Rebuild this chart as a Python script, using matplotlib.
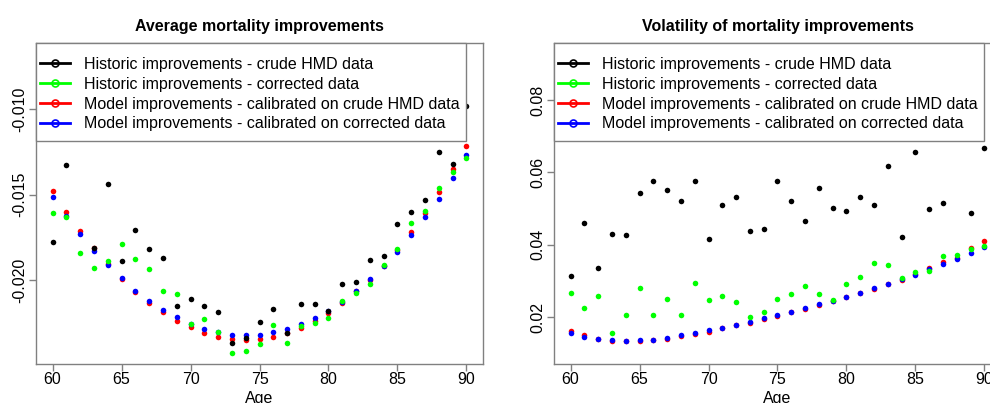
import matplotlib
matplotlib.use("Agg")
import matplotlib.pyplot as plt
from matplotlib.lines import Line2D
from matplotlib.patches import Rectangle
from matplotlib.ticker import FixedLocator, FuncFormatter

plt.rcParams['font.family'] = ['Liberation Sans', 'DejaVu Sans']

ages = list(range(60, 91))

# Average mortality improvements
avg_hist_crude = [-0.01774, -0.01327, -0.01120, -0.01813, -0.01439, -0.01889, -0.01708, -0.01819,
                  -0.01871, -0.02150, -0.02111, -0.02149, -0.02187, -0.02368, -0.02339, -0.02246,
                  -0.02168, -0.02306, -0.02137, -0.02140, -0.02180, -0.02020, -0.02008, -0.01883,
                  -0.01860, -0.01671, -0.01602, -0.01533, -0.01251, -0.01320, -0.00979]
avg_hist_corr = [-0.01608, -0.01632, -0.01842, -0.01928, -0.01885, -0.01786, -0.01877, -0.01936,
                 -0.02064, -0.02082, -0.02258, -0.02228, -0.02304, -0.02425, -0.02415, -0.02371,
                 -0.02263, -0.02368, -0.02267, -0.02251, -0.02219, -0.02121, -0.02076, -0.02023,
                 -0.01912, -0.01816, -0.01664, -0.01593, -0.01462, -0.01368, -0.01283]
avg_model_crude = [-0.01480, -0.01599, -0.01710, -0.01809, -0.01906, -0.01992, -0.02067, -0.02131,
                   -0.02187, -0.02238, -0.02276, -0.02306, -0.02330, -0.02343, -0.02347, -0.02342,
                   -0.02330, -0.02310, -0.02279, -0.02236, -0.02191, -0.02135, -0.02064, -0.01997,
                   -0.01915, -0.01825, -0.01715, -0.01606, -0.01484, -0.01351, -0.01213]
avg_model_corr = [-0.01515, -0.01624, -0.01729, -0.01827, -0.01911, -0.01988, -0.02061, -0.02119,
                  -0.02174, -0.02216, -0.02254, -0.02285, -0.02304, -0.02318, -0.02320, -0.02318,
                  -0.02304, -0.02285, -0.02257, -0.02220, -0.02178, -0.02125, -0.02061, -0.01994,
                  -0.01919, -0.01833, -0.01736, -0.01632, -0.01523, -0.01400, -0.01269]

# Volatility of mortality improvements
vol_hist_crude = [0.03146, 0.04602, 0.03367, 0.04298, 0.04271, 0.05431, 0.05771, 0.05514,
                  0.05210, 0.05771, 0.04169, 0.05108, 0.05320, 0.04381, 0.04428, 0.05754,
                  0.05218, 0.04649, 0.05561, 0.05017, 0.04934, 0.05312, 0.05091, 0.06177,
                  0.04207, 0.06572, 0.04989, 0.05163, 0.07500, 0.04887, 0.06666]
vol_hist_corr = [0.02669, 0.02262, 0.02586, 0.01555, 0.02069, 0.02798, 0.02069, 0.02494,
                 0.02069, 0.02936, 0.02483, 0.02577, 0.02412, 0.02000, 0.02144, 0.02511,
                 0.02633, 0.02854, 0.02641, 0.02483, 0.02909, 0.03119, 0.03497, 0.03450,
                 0.03083, 0.03249, 0.03285, 0.03682, 0.03710, 0.03884, 0.03975]
vol_model_crude = [0.01610, 0.01500, 0.01398, 0.01351, 0.01334, 0.01351, 0.01362, 0.01406,
                   0.01472, 0.01536, 0.01600, 0.01693, 0.01776, 0.01848, 0.01950, 0.02041,
                   0.02135, 0.02227, 0.02337, 0.02439, 0.02558, 0.02669, 0.02787, 0.02917,
                   0.03036, 0.03193, 0.03351, 0.03533, 0.03627, 0.03920, 0.04097]
vol_model_corr = [0.01555, 0.01461, 0.01398, 0.01370, 0.01351, 0.01362, 0.01378, 0.01434,
                  0.01500, 0.01564, 0.01638, 0.01710, 0.01793, 0.01876, 0.01978, 0.02061,
                  0.02152, 0.02254, 0.02365, 0.02456, 0.02566, 0.02677, 0.02798, 0.02925,
                  0.03047, 0.03174, 0.03323, 0.03470, 0.03608, 0.03773, 0.03939]

legend_labels = ["Historic improvements - crude HMD data",
                 "Historic improvements - corrected data",
                 "Model improvements - calibrated on crude HMD data",
                 "Model improvements - calibrated on corrected data"]
colors = ["#000000", "#00FF00", "#FF0000", "#0000FF"]
titles = ["Average mortality improvements", "Volatility of mortality improvements"]
x_ticks = [60, 65, 70, 75, 80, 85, 90]
avg_yticks = [-0.020, -0.015, -0.010]
vol_yticks = [0.02, 0.04, 0.06, 0.08]

FS = 11.5
GRAY = "#808080"

fig = plt.figure(figsize=(9.9, 4.03), dpi=100)
W, H = 990.0, 403.0
AW, AH = 447.0, 321.0
ax1 = fig.add_axes([36 / W, 39 / H, AW / W, AH / H])
ax2 = fig.add_axes([554 / W, 39 / H, AW / W, AH / H])


def style(ax, title, yticks, fmt, ylim):
    ax.set_xlim(58.8, 91.2)
    ax.set_ylim(*ylim)
    for s in ax.spines.values():
        s.set_color(GRAY)
        s.set_linewidth(1.0)
    ax.xaxis.set_major_locator(FixedLocator(x_ticks))
    ax.yaxis.set_major_locator(FixedLocator(yticks))
    ax.yaxis.set_major_formatter(FuncFormatter(lambda v, p: fmt.format(v)))
    ax.tick_params(axis='both', direction='out', length=5, width=1, color=GRAY,
                   labelsize=FS, labelcolor='black')
    ax.tick_params(axis='x', pad=0.5)
    ax.tick_params(axis='y', pad=1.5)
    for lab in ax.get_yticklabels():
        lab.set_rotation(90)
        lab.set_va('center')
    ax.text(0.5, 1 + 17 / AH, title, transform=ax.transAxes, ha='center', va='center',
            fontsize=FS, fontweight='bold')
    ax.text(0.5, -34 / AH, "Age", transform=ax.transAxes, ha='center', va='center',
            fontsize=FS)
    # legend box
    box = Rectangle((0, 1 - 98 / AH), 430 / AW, 98 / AH, transform=ax.transAxes,
                    facecolor='white', edgecolor=GRAY, linewidth=1.0, zorder=9,
                    clip_on=False)
    ax.add_patch(box)
    handles = [Line2D([0], [0], color=c, lw=2, marker='o', markersize=5,
                      markerfacecolor='none', markeredgecolor=c, markeredgewidth=1.2)
               for c in colors]
    leg = ax.legend(handles, legend_labels, loc='upper left',
                    bbox_to_anchor=(4 / AW, 1 - 14 / AH), borderaxespad=0,
                    fontsize=FS, frameon=False, handlelength=1.875, handletextpad=0.85,
                    labelspacing=0.3, borderpad=0)
    leg.set_zorder(10)


def draw(ax, series):
    # draw order: red, blue, green, black
    order = [2, 3, 1, 0]
    for i in order:
        ax.plot(ages, series[i], linestyle='none', marker='o', markersize=4.0,
                color=colors[i], markeredgewidth=0)


draw(ax1, [avg_hist_crude, avg_hist_corr, avg_model_crude, avg_model_corr])
draw(ax2, [vol_hist_crude, vol_hist_corr, vol_model_crude, vol_model_corr])
style(ax1, titles[0], avg_yticks, "{:.3f}", (-0.024895, -0.006123))
style(ax2, titles[1], vol_yticks, "{:.2f}", (0.00707, 0.09575))

fig.savefig("out.png", dpi=100)
